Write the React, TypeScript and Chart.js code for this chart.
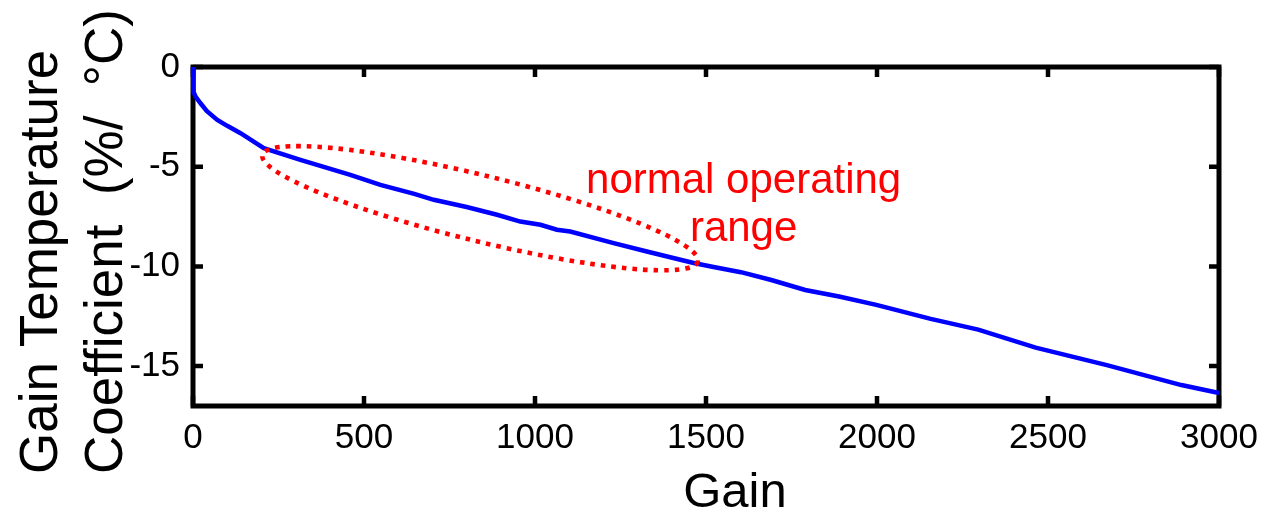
import { useEffect, useRef } from "react";
import { Chart, registerables } from "chart.js";

Chart.register(...registerables);

// Gain temperature coefficient (%/°C) versus gain
const gain = [0, 1, 2, 8, 22, 40, 71, 100, 139, 207, 314, 460, 548, 647, 704, 800, 889, 957, 1016, 1064, 1103, 1230, 1327, 1464, 1522, 1602, 1691, 1790, 1889, 1998, 2157, 2296, 2464, 2672, 2890, 3000];
const coeff = [0, -0.7, -1.25, -1.5, -1.82, -2.2, -2.65, -2.95, -3.32, -4.07, -4.66, -5.41, -5.91, -6.36, -6.66, -7.02, -7.41, -7.75, -7.91, -8.16, -8.25, -8.83, -9.25, -9.83, -10.03, -10.29, -10.68, -11.18, -11.51, -11.93, -12.63, -13.17, -14.07, -14.95, -15.95, -16.35];

const xTicks = [0, 500, 1000, 1500, 2000, 2500, 3000];
const yTicks = [0, -5, -10, -15];

// Dotted ellipse around the normal operating range (ends in data units)
const rangeStart = [203, -4.41];
const rangeEnd = [1476, -9.75];
const rangeHalfWidth = 1.65;

const noteLines = ["normal operating", "range"];
const noteGain = 1610;
const noteBaselines = [-6.3, -8.75];

const xTitle = "Gain";
const yTitleLines = ["Gain Temperature", "Coefficient  (%/  °C)"];

const FONT = '"Liberation Sans", Arial, sans-serif';

// Box frame with inward ticks and axis titles, drawn beneath the curve
const framePlugin = {
  id: "frame",
  beforeDatasetsDraw(chart: any) {
    const { ctx, chartArea: a, scales } = chart;
    const xs = scales.x;
    const ys = scales.y;
    ctx.save();
    ctx.strokeStyle = "#000";
    ctx.lineWidth = 5;
    ctx.lineJoin = "miter";
    ctx.strokeRect(a.left, a.top, a.right - a.left, a.bottom - a.top);
    const tl = 10;
    ctx.lineWidth = 4.5;
    ctx.beginPath();
    xs.ticks.forEach((t: any) => {
      const px = xs.getPixelForValue(t.value);
      ctx.moveTo(px, a.bottom);
      ctx.lineTo(px, a.bottom - tl);
      ctx.moveTo(px, a.top);
      ctx.lineTo(px, a.top + tl);
    });
    ys.ticks.forEach((t: any) => {
      const py = ys.getPixelForValue(t.value);
      ctx.moveTo(a.left, py);
      ctx.lineTo(a.left + tl, py);
      ctx.moveTo(a.right, py);
      ctx.lineTo(a.right - tl, py);
    });
    ctx.stroke();

    ctx.fillStyle = "#000";
    ctx.font = `49px ${FONT}`;
    ctx.textAlign = "center";
    ctx.textBaseline = "alphabetic";
    ctx.fillText(xTitle, 735, 507);

    ctx.font = `53px ${FONT}`;
    ctx.textAlign = "left";
    const baseXs = [57, 122];
    yTitleLines.forEach((t, i) => {
      ctx.save();
      ctx.translate(baseXs[i], 474);
      ctx.rotate(-Math.PI / 2);
      ctx.fillText(t, 0, 0);
      ctx.restore();
    });
    ctx.restore();
  },
};

// Dotted ellipse and its note, drawn over the curve
const notePlugin = {
  id: "note",
  afterDatasetsDraw(chart: any) {
    const { ctx, scales } = chart;
    const xs = scales.x;
    const ys = scales.y;
    ctx.save();
    const x1 = xs.getPixelForValue(rangeStart[0]);
    const y1 = ys.getPixelForValue(rangeStart[1]);
    const x2 = xs.getPixelForValue(rangeEnd[0]);
    const y2 = ys.getPixelForValue(rangeEnd[1]);
    const rx = Math.hypot(x2 - x1, y2 - y1) / 2;
    const ry = Math.abs(ys.getPixelForValue(0) - ys.getPixelForValue(rangeHalfWidth));
    ctx.beginPath();
    ctx.ellipse((x1 + x2) / 2, (y1 + y2) / 2, rx, ry, Math.atan2(y2 - y1, x2 - x1), 0, Math.PI * 2);
    ctx.strokeStyle = "#ff0000";
    ctx.lineWidth = 4.6;
    ctx.setLineDash([4.6, 6]);
    ctx.lineCap = "butt";
    ctx.stroke();
    ctx.setLineDash([]);

    ctx.fillStyle = "#ff0000";
    ctx.font = `42px ${FONT}`;
    ctx.textAlign = "center";
    ctx.textBaseline = "alphabetic";
    noteLines.forEach((t, i) => {
      ctx.fillText(t, xs.getPixelForValue(noteGain), ys.getPixelForValue(noteBaselines[i]));
    });
    ctx.restore();
  },
};

export default function App() {
  const ref = useRef<HTMLCanvasElement | null>(null);

  useEffect(() => {
    if (!ref.current) return;
    const chart = new Chart(ref.current, {
      type: "line",
      data: {
        datasets: [
          {
            data: gain.map((g, i) => ({ x: g, y: coeff[i] })),
            borderColor: "#0000ff",
            borderWidth: 4.5,
            pointRadius: 0,
            tension: 0,
            fill: false,
            clip: 6,
          },
        ],
      },
      options: {
        animation: false,
        responsive: true,
        maintainAspectRatio: false,
        devicePixelRatio: 1,
        layout: { padding: { top: 67, right: 58, left: 0, bottom: 0 } },
        plugins: { legend: { display: false }, tooltip: { enabled: false } },
        scales: {
          x: {
            type: "linear",
            min: 0,
            max: 3000,
            grid: { display: false, drawTicks: false, tickLength: 0 },
            border: { display: false },
            afterBuildTicks: (s: any) => {
              s.ticks = xTicks.map((v) => ({ value: v }));
            },
            afterFit: (s: any) => {
              s.height = 106;
            },
            ticks: {
              padding: 11,
              maxRotation: 0,
              autoSkip: false,
              color: "#000",
              font: { family: FONT, size: 35 },
              callback: (v: any) => String(v),
            },
          },
          y: {
            type: "linear",
            min: -17,
            max: 0,
            grid: { display: false, drawTicks: false, tickLength: 0 },
            border: { display: false },
            afterBuildTicks: (s: any) => {
              s.ticks = yTicks.map((v) => ({ value: v }));
            },
            afterFit: (s: any) => {
              s.width = 193;
            },
            ticks: {
              padding: 13,
              autoSkip: false,
              color: "#000",
              font: { family: FONT, size: 35 },
              callback: (v: any) => String(v),
            },
          },
        },
      },
      plugins: [framePlugin, notePlugin],
    });
    return () => chart.destroy();
  }, []);

  return (
    <div style={{ position: "absolute", left: 0, top: 0, width: 1277, height: 512, background: "#fff" }}>
      <canvas ref={ref} />
    </div>
  );
}
